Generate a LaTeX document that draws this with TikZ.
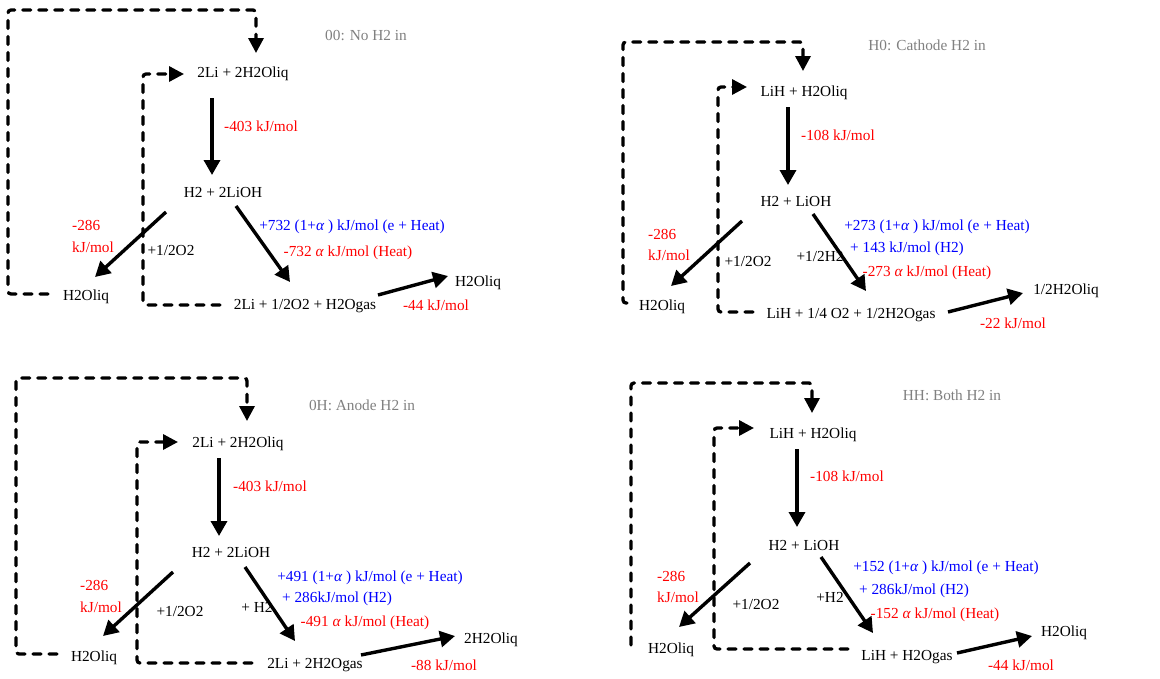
\documentclass[tikz,border=0pt]{standalone}
\usepackage{fontspec}
\setmainfont{Liberation Serif}
\usetikzlibrary{arrows.meta}
\definecolor{kred}{RGB}{255,0,0}
\definecolor{kblue}{RGB}{0,0,255}
\definecolor{kgray}{RGB}{128,128,128}
\begin{document}
\begin{tikzpicture}[x=1pt,y=-1pt,
  every node/.style={inner sep=0pt, font=\fontsize{15.3}{18}\selectfont, text height=10.5pt, text depth=3pt},
  ered/.style={text=kred},
  eblue/.style={text=kblue},
  ttl/.style={text=kgray},
  rxn/.style={line width=3.4pt, -{Triangle[length=15pt,width=16pt]}},
  cyc/.style={line width=3.3pt, line cap=round, dash pattern=on 8pt off 8pt, rounded corners=3pt, -{Triangle[length=15pt,width=15pt]}},
]
\useasboundingbox (0,0) rectangle (1160,678);

% ---------- 00: No H2 in ----------
\node[ttl] (a-t) at (366,37) {00: No H2 in};
\node (a-r) at (243,74) {2Li + 2H2Oliq};
\node (a-m) at (223,194) {H2 + 2LiOH};
\node (a-w) at (86,297) {H2Oliq};
\node (a-p) at (305,306) {2Li + 1/2O2 + H2Ogas};
\node (a-o) at (478,283) {H2Oliq};
\node[ered] (a-l1) at (261,128) {-403 kJ/mol};
\node[ered,anchor=west] (a-l2) at (72,227) {-286};
\node[ered,anchor=west] (a-l3) at (72,249) {kJ/mol};
\node (a-l4) at (171,252) {+1/2O2};
\node[eblue] (a-l5) at (352,227) {+732 (1+\textit{α} ) kJ/mol (e + Heat)};
\node[ered] (a-l6) at (348,253) {-732 \textit{α} kJ/mol (Heat)};
\node[ered] (a-l7) at (436,307) {-44 kJ/mol};
\draw[rxn] ([shift={(-31,24)}]a-r.center) -- ([shift={(-11,-19)}]a-m.center);
\draw[rxn] ([shift={(-57,18)}]a-m.center) -- ([shift={(9,-20)}]a-w.center);
\draw[rxn] ([shift={(13,12)}]a-m.center) -- ([shift={(-15,-24)}]a-p.center);
\draw[rxn] ([shift={(73,-11)}]a-p.center) -- ([shift={(-30,-7)}]a-o.center);
\draw[cyc] ([shift={(-38,-3)}]a-w.center) -| (8,10) -| ([shift={(13,-21)}]a-r.center);
\draw[cyc] ([shift={(-85,-1)}]a-p.center) -| ([shift={(-100,0)}]a-r.center) -- ([shift={(-59,0)}]a-r.center);

% ---------- H0: Cathode H2 in ----------
\node[ttl] (b-t) at (927,47) {H0: Cathode H2 in};
\node (b-r) at (804,93) {LiH + H2Oliq};
\node (b-m) at (796,203) {H2 + LiOH};
\node (b-w) at (662,307) {H2Oliq};
\node (b-p) at (851,315) {LiH + 1/4 O2 + 1/2H2Ogas};
\node (b-o) at (1066,291) {1/2H2Oliq};
\node[ered] (b-l1) at (838,137) {-108 kJ/mol};
\node[ered,anchor=west] (b-l2) at (648,236) {-286};
\node[ered,anchor=west] (b-l3) at (648,257) {kJ/mol};
\node (b-l4) at (748,263) {+1/2O2};
\node (b-l5) at (820,258) {+1/2H2};
\node[eblue] (b-l6) at (937,227) {+273 (1+\textit{α} ) kJ/mol (e + Heat)};
\node[eblue] (b-l7) at (907,249) {+ 143 kJ/mol (H2)};
\node[ered] (b-l8) at (927,273) {-273 \textit{α} kJ/mol (Heat)};
\node[ered] (b-l9) at (1013,325) {-22 kJ/mol};
\draw[rxn] ([shift={(-16,14)}]b-r.center) -- ([shift={(-8,-18)}]b-m.center);
\draw[rxn] ([shift={(-54,18)}]b-m.center) -- ([shift={(9,-21)}]b-w.center);
\draw[rxn] ([shift={(17,11)}]b-m.center) -- ([shift={(15,-24)}]b-p.center);
\draw[rxn] ([shift={(97,-3)}]b-p.center) -- ([shift={(-43,2)}]b-o.center);
\draw[cyc] ([shift={(-35,-4)}]b-w.center) -| (623,42) -| ([shift={(-1,-22)}]b-r.center);
\draw[cyc] ([shift={(-98,-3)}]b-p.center) -| ([shift={(-86,-6)}]b-r.center) -- ([shift={(-57,-6)}]b-r.center);

% ---------- 0H: Anode H2 in ----------
\node[ttl] (c-t) at (362,407) {0H: Anode H2 in};
\node (c-r) at (238,444) {2Li + 2H2Oliq};
\node (c-m) at (231,554) {H2 + 2LiOH};
\node (c-w) at (94,658) {H2Oliq};
\node (c-p) at (315,665) {2Li + 2H2Ogas};
\node (c-o) at (491,640) {2H2Oliq};
\node[ered] (c-l1) at (270,488) {-403 kJ/mol};
\node[ered,anchor=west] (c-l2) at (80,587) {-286};
\node[ered,anchor=west] (c-l3) at (80,609) {kJ/mol};
\node (c-l4) at (180,613) {+1/2O2};
\node (c-l5) at (257,609) {+ H2};
\node[eblue] (c-l6) at (370,578) {+491 (1+\textit{α} ) kJ/mol (e + Heat)};
\node[eblue] (c-l7) at (337,599) {+ 286kJ/mol (H2)};
\node[ered] (c-l8) at (365,623) {-491 \textit{α} kJ/mol (Heat)};
\node[ered] (c-l9) at (444,667) {-88 kJ/mol};
\draw[rxn] ([shift={(-19,14)}]c-r.center) -- ([shift={(-12,-18)}]c-m.center);
\draw[rxn] ([shift={(-58,18)}]c-m.center) -- ([shift={(9,-22)}]c-w.center);
\draw[rxn] ([shift={(14,13)}]c-m.center) -- ([shift={(-20,-24)}]c-p.center);
\draw[rxn] ([shift={(46,-10)}]c-p.center) -- ([shift={(-36,-4)}]c-o.center);
\draw[cyc] ([shift={(-37,-4)}]c-w.center) -| (16,378) -| ([shift={(9,-23)}]c-r.center);
\draw[cyc] ([shift={(-63,-2)}]c-p.center) -| ([shift={(-101,-2)}]c-r.center) -- ([shift={(-60,-2)}]c-r.center);

% ---------- HH: Both H2 in ----------
\node[ttl] (d-t) at (952,397) {HH: Both H2 in};
\node (d-r) at (813,435) {LiH + H2Oliq};
\node (d-m) at (804,547) {H2 + LiOH};
\node (d-w) at (671,650) {H2Oliq};
\node (d-p) at (907,657) {LiH + H2Ogas};
\node (d-o) at (1064,633) {H2Oliq};
\node[ered] (d-l1) at (847,478) {-108 kJ/mol};
\node[ered,anchor=west] (d-l2) at (657,578) {-286};
\node[ered,anchor=west] (d-l3) at (657,599) {kJ/mol};
\node (d-l4) at (756,606) {+1/2O2};
\node (d-l5) at (830,599) {+H2};
\node[eblue] (d-l6) at (946,568) {+152 (1+\textit{α} ) kJ/mol (e + Heat)};
\node[eblue] (d-l7) at (914,591) {+ 286kJ/mol (H2)};
\node[ered] (d-l8) at (935,615) {-152 \textit{α} kJ/mol (Heat)};
\node[ered] (d-l9) at (1021,667) {-44 kJ/mol};
\draw[rxn] ([shift={(-16,14)}]d-r.center) -- ([shift={(-7,-20)}]d-m.center);
\draw[rxn] ([shift={(-54,16)}]d-m.center) -- ([shift={(8,-23)}]d-w.center);
\draw[rxn] ([shift={(17,10)}]d-m.center) -- ([shift={(-34,-24)}]d-p.center);
\draw[rxn] ([shift={(50,-4)}]d-p.center) -- ([shift={(-32,3)}]d-o.center);
\draw[cyc] ([shift={(-40,-5)}]d-w.center) |- (812,383) -- ([shift={(-1,-22)}]d-r.center);
\draw[cyc] ([shift={(-59,-8)}]d-p.center) -| ([shift={(-99,-7)}]d-r.center) -- ([shift={(-59,-7)}]d-r.center);
\end{tikzpicture}
\end{document}
